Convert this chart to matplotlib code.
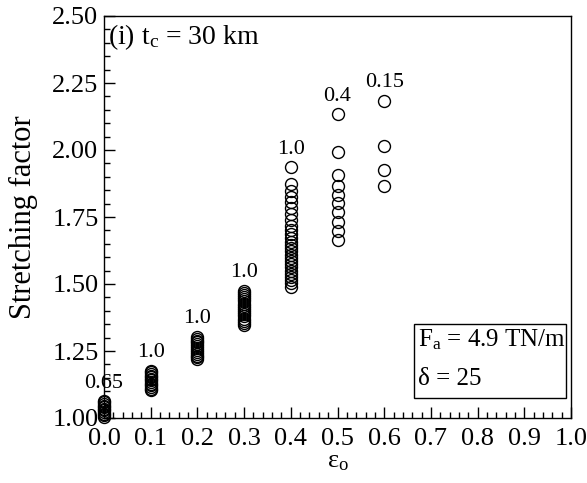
import matplotlib
matplotlib.use("Agg")
import matplotlib.pyplot as plt
from matplotlib.ticker import MultipleLocator
from matplotlib.patches import Rectangle

plt.rcParams['font.family'] = ['Liberation Serif', 'DejaVu Serif']
plt.rcParams['mathtext.fontset'] = 'custom'
plt.rcParams['mathtext.rm'] = 'Liberation Serif'
plt.rcParams['mathtext.it'] = 'Liberation Serif:italic'

# Data: strain (epsilon_o) columns and stretching factors
eps_values = [0.0, 0.1, 0.2, 0.3, 0.4, 0.5, 0.6]
sf_00 = [1.003, 1.010, 1.016, 1.022, 1.028, 1.034, 1.040, 1.046, 1.052, 1.058, 1.064]
sf_01 = [1.104, 1.110, 1.116, 1.122, 1.128, 1.134, 1.140, 1.146, 1.152, 1.158, 1.164, 1.170, 1.176]
sf_02 = [1.219, 1.226, 1.233, 1.240, 1.247, 1.254, 1.261, 1.268, 1.275, 1.282, 1.289, 1.296, 1.303]
sf_03 = [1.347, 1.355, 1.363, 1.371, 1.379, 1.387, 1.395, 1.403, 1.411, 1.419, 1.427,
         1.435, 1.443, 1.451, 1.459, 1.467, 1.475]
sf_04 = [1.490, 1.502, 1.514, 1.526, 1.538, 1.550, 1.562, 1.574, 1.586, 1.598, 1.610,
         1.622, 1.634, 1.646, 1.658, 1.670, 1.685, 1.700, 1.718, 1.738, 1.760,
         1.785, 1.806, 1.825, 1.847, 1.873, 1.935]
sf_05 = [1.664, 1.699, 1.732, 1.770, 1.801, 1.832, 1.866, 1.907, 1.991, 2.134]
sf_06 = [1.866, 1.925, 2.016, 2.184]
columns = [sf_00, sf_01, sf_02, sf_03, sf_04, sf_05, sf_06]
col_labels = ['0.65', '1.0', '1.0', '1.0', '1.0', '0.4', '0.15']

xticks = [0.0, 0.1, 0.2, 0.3, 0.4, 0.5, 0.6, 0.7, 0.8, 0.9, 1.0]
yticks = [1.00, 1.25, 1.50, 1.75, 2.00, 2.25, 2.50]

fig = plt.figure(figsize=(5.87, 4.83), dpi=100)
ax = fig.add_axes([104/587, 1-418/483, (571-104)/587, (418-16)/483])

for x, ys, lab in zip(eps_values, columns, col_labels):
    ax.plot([x]*len(ys), ys, linestyle='none', marker='o', markersize=8.6,
            markerfacecolor='none', markeredgecolor='black', markeredgewidth=1.0,
            clip_on=False)
    ax.annotate(lab, xy=(x, max(ys)), xytext=(0, 6), textcoords='offset points',
                ha='center', va='bottom', fontsize=16)

ax.set_xlim(0.0, 1.0)
ax.set_ylim(1.0, 2.5)
ax.set_xticks(xticks)
ax.set_xticklabels([f"{v:.1f}" for v in xticks])
ax.set_yticks(yticks)
ax.set_yticklabels([f"{v:.2f}" for v in yticks])
ax.xaxis.set_minor_locator(MultipleLocator(0.02))
ax.yaxis.set_minor_locator(MultipleLocator(0.05))
ax.tick_params(which='both', direction='in', top=False, right=False, labelsize=19, width=1.0)
ax.tick_params(which='major', length=8)
ax.tick_params(which='minor', length=4.5)
ax.tick_params(axis='x', pad=7)
ax.tick_params(axis='y', pad=4)
for s in ax.spines.values():
    s.set_linewidth(1.0)

ax.set_xlabel(r'$\mathregular{\varepsilon_o}$', fontsize=19, labelpad=1)
ax.set_ylabel('Stretching factor', fontsize=22, labelpad=10)

ax.text(0.008, 0.985, r'(i) $\mathregular{t_c}$ = 30 km', transform=ax.transAxes,
        ha='left', va='top', fontsize=20)

# parameter box
ax.add_patch(Rectangle((0.664, 0.050), 0.3255, 0.184, transform=ax.transAxes,
                       facecolor='white', edgecolor='black', linewidth=1.0, zorder=3))
ax.text(0.6725, 0.194, 'F$\\mathregular{_a}$ = 4.9 TN/m', transform=ax.transAxes,
        ha='left', va='center', fontsize=18, zorder=4)
ax.text(0.6725, 0.097, 'δ = 25', transform=ax.transAxes,
        ha='left', va='center', fontsize=18, zorder=4)

fig.savefig('out.png', dpi=100)
